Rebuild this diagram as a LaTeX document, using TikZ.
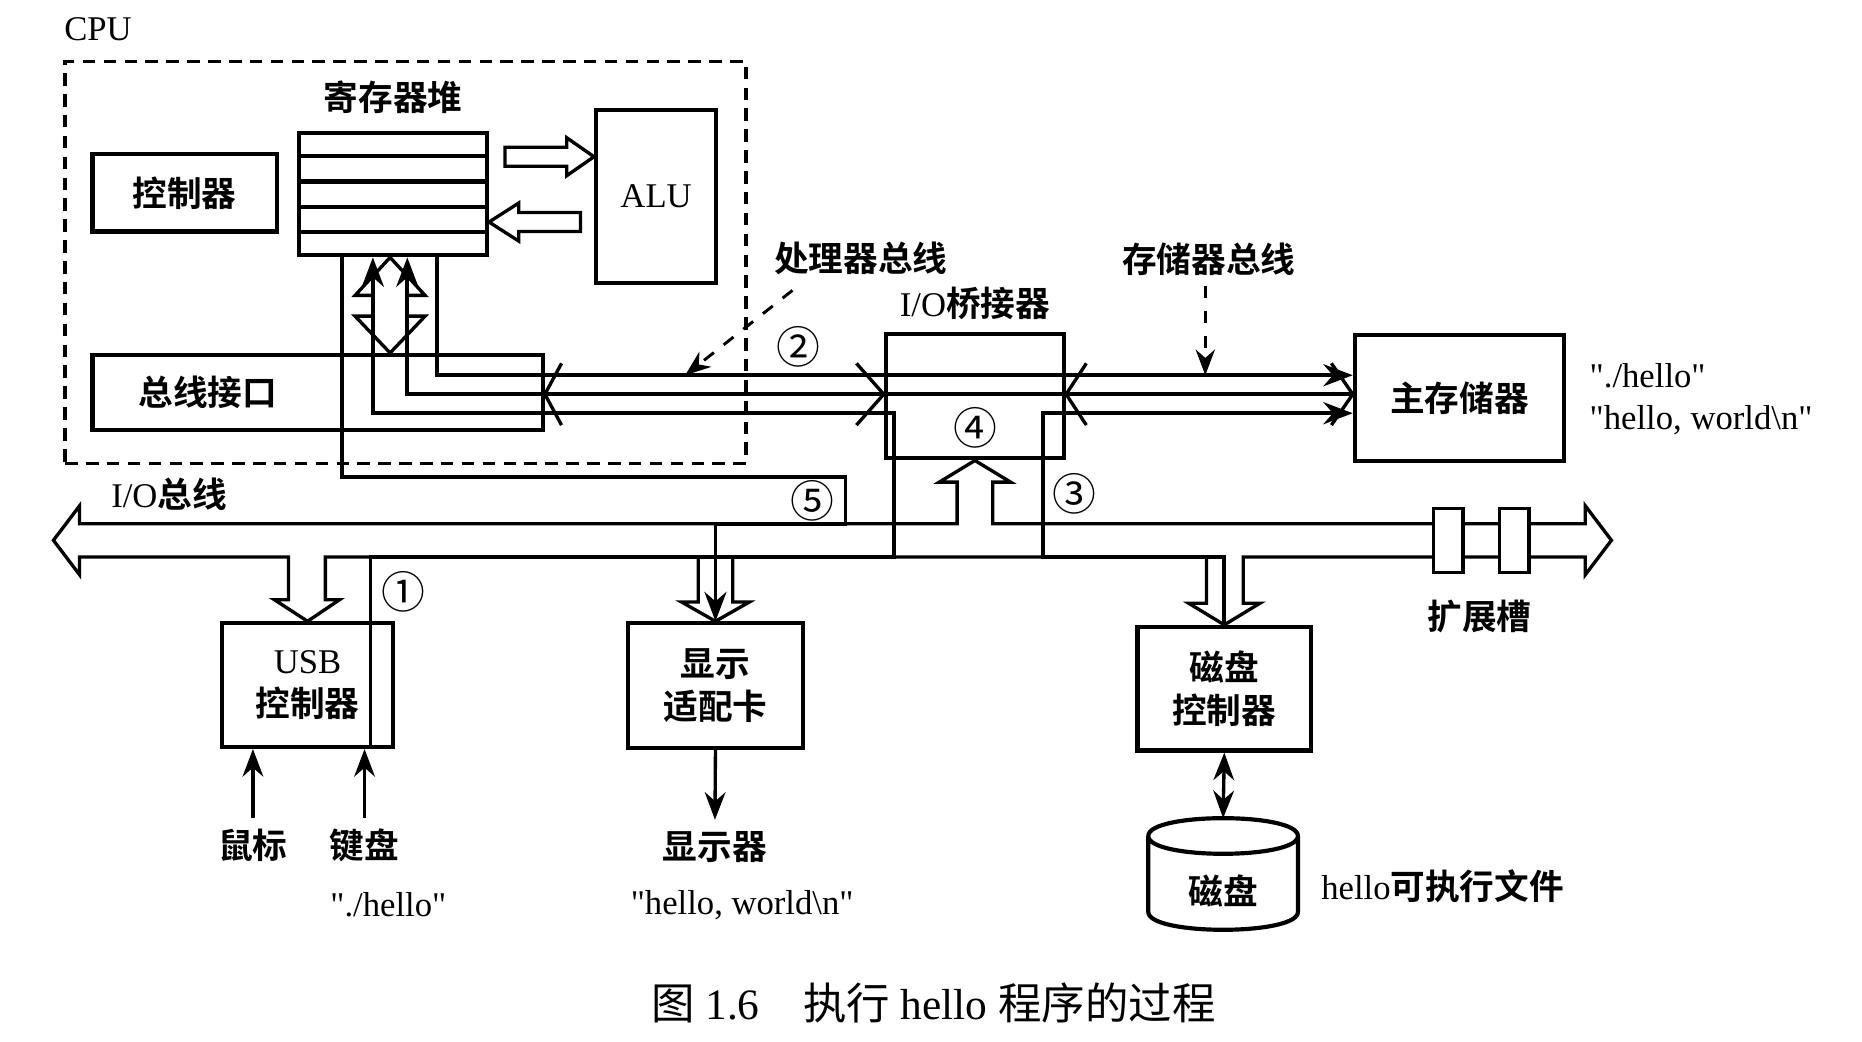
\documentclass[tikz,border=0pt]{standalone}
\usepackage{fontspec}
\setmainfont{Liberation Serif}
\newfontfamily\cjk{Noto Sans CJK SC}[UprightFont=* Bold]
\newfontfamily\cjkthin{Noto Sans CJK SC}
\usetikzlibrary{arrows.meta,positioning,calc}

\begin{document}
\fontsize{8.3}{10.2}\selectfont
\begin{tikzpicture}[x=0.01cm, y=-0.01cm, >=Stealth,
    unit/.style={draw, line width=1pt, inner sep=0pt, align=center},
    tag/.style={inner sep=0pt, align=center},
    zh/.style={tag, font=\cjk},
    step no/.style={tag, font=\fontsize{10.5}{12}\selectfont\cjkthin},
    bus/.style={line width=0.9pt},
    outline/.style={line width=0.8pt, line join=miter}]
  \useasboundingbox (0,0) rectangle (1568,877);

  % CPU
  \node[unit, dash pattern=on 3pt off 2pt, line width=0.8pt,
        minimum width=57.3mm, minimum height=33.8mm] (cpu) at (341.5,221) {};
  \node[tag, above right=1.5mm and 0mm of cpu.north west] (cpulbl) {CPU};
  \node[unit, minimum width=15.8mm, minimum height=10.3mm] (reg) at (331,163.5) {};
  \foreach \k in {1,...,4}
    \draw[line width=1pt] ($(reg.north west)!\k/5!(reg.south west)$) -- ($(reg.north east)!\k/5!(reg.south east)$);
  \node[zh, above=1.4mm of reg] (reglbl) {寄存器堆};
  \node[unit, font=\cjk, minimum width=15.5mm, minimum height=6.5mm] (ctrl) at (155.5,162.5) {控制器};
  \node[unit, minimum width=10.1mm, minimum height=14.5mm] (alu) at (552.5,165.5) {ALU};
  \node[unit, minimum width=37.9mm, minimum height=6.3mm] (bif) at (267.5,330.5) {};
  \node[zh] (biflbl) at (175,330) {总线接口};

  % register file <-> ALU
  \coordinate (toalu) at ($(alu.west)+(0,-33.5)$);
  \coordinate (toreg) at ($(reg.east)+(0,23.5)$);
  \draw[outline] (toalu) -- ++(-23,-16) -- ++(0,8) -- ++(-52,0) -- ++(0,16) -- ++(52,0) -- ++(0,8) -- cycle;
  \draw[outline] (toreg) -- ++(25,-16) -- ++(0,8) -- ++(52,0) -- ++(0,16) -- ++(-52,0) -- ++(0,8) -- cycle;

  % bridge, memory
  \node[unit, minimum width=15mm, minimum height=10.5mm] (bridge) at (821,333.5) {};
  \node[tag, above=0.9mm of bridge] (bridgelbl) {I/O{\cjk 桥接器}};
  \node[unit, font=\cjk, minimum width=17.6mm, minimum height=10.6mm] (mem) at (1229,335) {主存储器};
  \node[tag, anchor=west] (memtxt1) at (1338,316) {\textquotedbl./hello\textquotedbl};
  \node[tag, anchor=west] (memtxt2) at (1338,354) {\textquotedbl hello, world\textbackslash n\textquotedbl};

  % I/O devices
  \node[unit, minimum width=14.4mm, minimum height=10.4mm] (usb) at (259,577) {USB\\{\cjk 控制器}};
  \node[unit, font=\cjk, minimum width=14.7mm, minimum height=10.5mm] (gpu) at (602.5,577.5) {显示\\适配卡};
  \node[unit, font=\cjk, minimum width=14.6mm, minimum height=10.4mm] (dc) at (1031,580) {磁盘\\控制器};

  \coordinate (yA) at (0,316);
  \coordinate (yB) at (0,332);
  \coordinate (yC) at (0,348);
  \coordinate (yE) at (0,402);
  \coordinate (bustop) at (0,441);
  \coordinate (busbot) at (0,469);
  \coordinate (xA) at (368,0);
  \coordinate (xB) at (343,0);
  \coordinate (xC) at (314,0);
  \coordinate (xE) at (288,0);
  \coordinate (xM) at (328.5,0);
  \coordinate (xD) at (753,0);
  \coordinate (xF) at (878,0);
  \coordinate (xG) at (712,0);
  \coordinate (xU) at (312,0);

  % system bus and memory bus
  \draw[bus,->] (xA |- reg.south) -- (xA |- yA) -- (mem.west |- yA);
  \draw[bus,<-] (xB |- reg.south) -- (xB |- yB) -- (mem.west |- yB);
  \draw[bus,<-] (xC |- reg.south) -- (xC |- yC) -- (xD |- yC) -- (xD |- busbot)
    -- (xU |- busbot) -- (xU |- usb.south);
  \draw[bus,<-] (mem.west |- yC) -- (xF |- yC) -- (xF |- busbot) -- (dc.north |- busbot) -- (dc.north);
  \draw[bus,->] (xE |- reg.south) -- (xE |- yE) -- (xG |- yE) -- (xG |- bustop)
    -- (gpu.north |- bustop) -- (gpu.north);

  % bus ends
  \draw[outline] ($(bif.east |- yB)+(14,-26)$) -- (bif.east |- yB) -- ++(14,26);
  \draw[outline] ($(bridge.west |- yB)+(-23,-26)$) -- (bridge.west |- yB) -- ++(-23,26);
  \draw[outline] ($(bridge.east |- yB)+(17,-26)$) -- (bridge.east |- yB) -- ++(17,26);
  \draw[outline] ($(mem.west |- yB)+(-18,-26)$) -- (mem.west |- yB) -- ++(-18,26);
  \draw[outline] ($(xM |- reg.south)+(-14.5,32)$) -- ++(-15,0) -- (xM |- reg.south) -- ++(29.5,32) -- ++(-15,0);
  \draw[outline] ($(xM |- bif.north)+(-14.5,-31)$) -- ++(-15,0) -- (xM |- bif.north) -- ++(29.5,-31) -- ++(-15,0);

  % I/O bus
  \draw[outline] (67,441) -- (806,441) -- (806,406) -- (791,406) -- (bridge.south)
    -- (851,406) -- (836,406) -- (836,441) -- (1335,441) -- (1335,426) -- (1357,455)
    -- (1335,484) -- (1335,469) -- (1047,469) -- (1047,508) -- (1061,508) -- (dc.north)
    -- (1001,508) -- (1016,508) -- (1016,469) -- (617,469) -- (617,507) -- (631,507)
    -- (gpu.north) -- (574,507) -- (588,507) -- (588,469) -- (274,469) -- (274,505)
    -- (286,505) -- (usb.north) -- (231,505) -- (243,505) -- (243,469) -- (67,469)
    -- (67,484) -- (45,455) -- (67,426) -- cycle;
  \node[draw, fill=white, line width=0.8pt, minimum width=2.5mm, minimum height=5.4mm] (slotA) at (1219.5,455) {};
  \node[draw, fill=white, line width=0.8pt, minimum width=2.5mm, minimum height=5.4mm] (slotB) at (1275,455) {};
  \node[zh] (slotlbl) at (1246,519) {扩展槽};

  % bus labels
  \node[tag, anchor=west] (iobuslbl) at (93,416) {I/O{\cjk 总线}};
  \node[zh] (pbuslbl) at (725,218) {处理器总线};
  \node[zh] (mbuslbl) at (1018,218) {存储器总线};
  \coordinate (ptap) at (577,316);
  \coordinate (mtap) at (1015,316);
  \draw[dashed, ->, line width=0.7pt] ($(pbuslbl.south west)+(16,12)$) -- (ptap);
  \draw[dashed, ->, line width=0.7pt] ($(mbuslbl.south -| mtap)+(0,8)$) -- (mtap);

  % steps
  \node[step no] (n1) at (340,498) {①};
  \node[step no] (n2) at (672,292) {②};
  \node[step no] (n3) at (905,416) {③};
  \node[step no] (n4) at (821,360) {④};
  \node[step no] (n5) at (684,422) {⑤};

  % devices below
  \node[zh] (mouse) at (213,712) {鼠标};
  \node[zh] (kbd) at (307,712) {键盘};
  \node[tag] (kbdtxt) at (327,762) {\textquotedbl./hello\textquotedbl};
  \draw[->, line width=0.8pt, shorten <=2.5pt] (mouse.north) -- (mouse.north |- usb.south);
  \draw[->, line width=0.8pt, shorten <=2.5pt] (kbd.north) -- (kbd.north |- usb.south);
  \node[zh] (screen) at (602,713) {显示器};
  \node[tag] (screentxt) at (625,762) {\textquotedbl hello, world\textbackslash n\textquotedbl};
  \draw[->, line width=0.8pt, shorten >=2.5pt] (gpu.south) -- (screen.north);

  % disk
  \draw[line width=1pt] (967,704) .. controls (967,684) and (1093,684) .. (1093,704)
    .. controls (1093,724) and (967,724) .. (967,704) -- (967,768)
    .. controls (967,788) and (1093,788) .. (1093,768) -- (1093,704);
  \node[zh] (disk) at (1030,750) {磁盘};
  \coordinate (disktop) at (1030,689);
  \draw[<->, line width=0.8pt] (dc.south) -- (disktop);
  \node[tag, anchor=west] (exe) at (1112,746) {hello{\cjk 可执行文件}};

  \node[tag, font=\fontsize{10.4}{12}\selectfont] (caption) at (786,845)
    {{\cjkthin 图} 1.6\quad{\cjkthin 执行} hello {\cjkthin 程序的过程}};
\end{tikzpicture}
\end{document}
